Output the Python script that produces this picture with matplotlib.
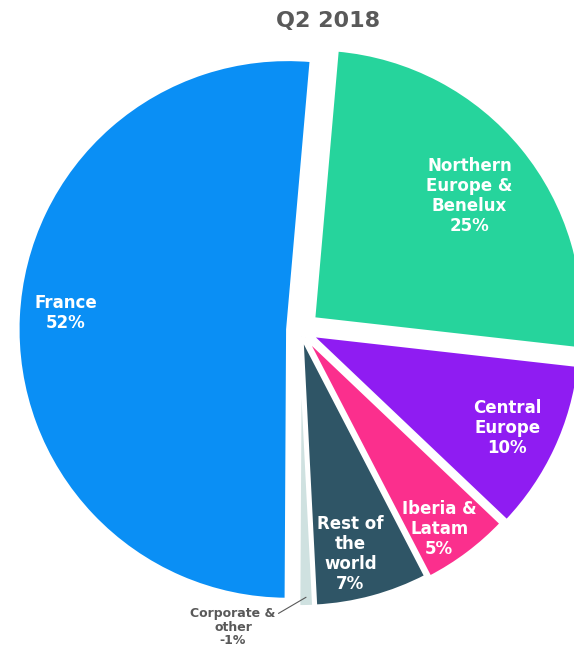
import numpy as np
import matplotlib.pyplot as plt

regions = ["Northern\nEurope &\nBenelux", "Central\nEurope", "Iberia &\nLatam",
           "Rest of\nthe\nworld", "Corporate &\nother", "France"]
shares = [25.4, 10.3, 5.3, 6.8, 0.9, 51.3]
pct_labels = ["25%", "10%", "5%", "7%", "-1%", "52%"]
colors = ["#26d49c", "#8f1cf2", "#fb2f8d", "#2f5566", "#cfe1e0", "#0a8ff5"]
explode = [0.065, 0.045, 0.035, 0.025, 0.025, 0.045]

fig = plt.figure(figsize=(5.74, 6.5), dpi=100)
ax = fig.add_axes([0, 0, 1, 1])

wedges, _ = ax.pie(shares, colors=colors, startangle=85.0, counterclock=False,
                   explode=explode, radius=1.0,
                   wedgeprops=dict(edgecolor="white", linewidth=2.5))

# label distance (fraction of radius) and small angle tweak per slice
label_r = [0.80, 0.85, 0.90, 0.85, None, 0.87]
label_dt = [-1, -0.3, -2, -2.5, 0, -1.5]
for w, name, pct, r, dt in zip(wedges, regions, pct_labels, label_r, label_dt):
    if r is None:
        continue
    th = np.deg2rad((w.theta1 + w.theta2) / 2 + dt)
    ax.text(r * np.cos(th), r * np.sin(th), name + "\n" + pct, ha="center",
            va="center", color="white", fontsize=12, fontweight="bold",
            linespacing=1.15)

# outside label for the small corporate slice
w = wedges[4]
th = np.deg2rad((w.theta1 + w.theta2) / 2)
ax.annotate(regions[4] + "\n" + pct_labels[4],
            xy=(0.99 * np.cos(th), 0.99 * np.sin(th)), xytext=(-0.248, -1.10),
            ha="center", va="center", color="#595959", fontsize=9,
            fontweight="bold", linespacing=1.05,
            arrowprops=dict(arrowstyle="-", color="#595959", lw=0.8,
                            shrinkA=0, shrinkB=0,
                            relpos=(1.0, 0.8)))

ax.set_xlim(-1.111, 1.015)
ax.set_ylim(-1.185, 1.222)
ax.set_aspect("auto")
ax.axis("off")

fig.text(0.572, 0.968, "Q2 2018", ha="center", va="center", fontsize=16,
         fontweight="bold", color="#595959")

fig.savefig("out.png", dpi=100)
